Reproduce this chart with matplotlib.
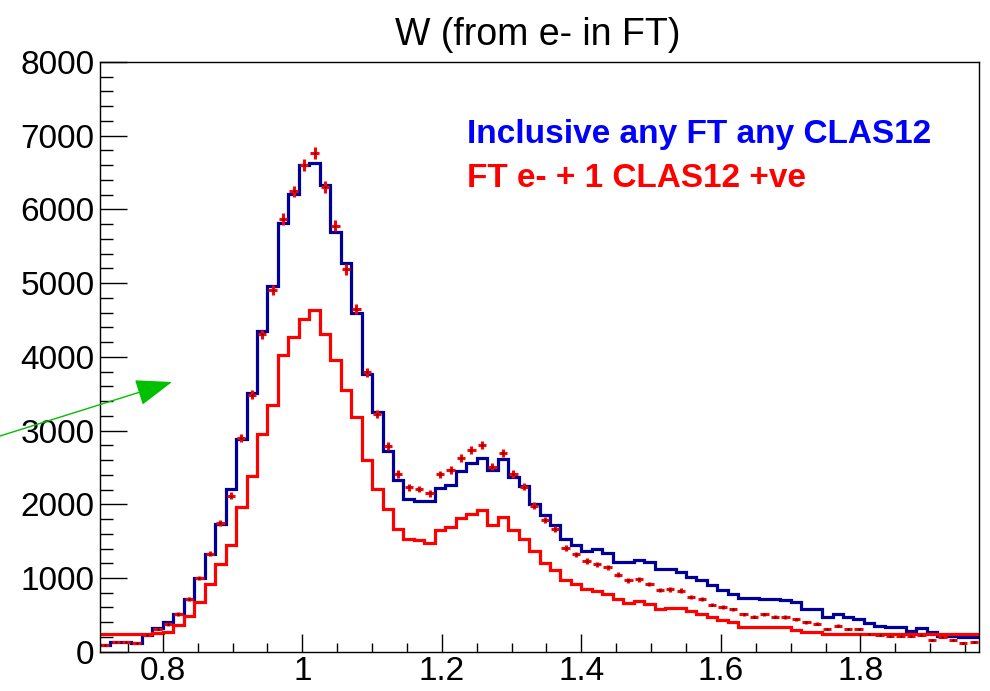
import numpy as np
import matplotlib
matplotlib.use('Agg')
import matplotlib.pyplot as plt

plt.rcParams['font.family'] = ['Liberation Sans', 'DejaVu Sans']

# binning: 84 bins of 0.015 from 0.71 to 1.97
w_lo = 0.71
w_hi = 1.97
n_bins = 84

# inclusive (blue line)
incl = [91, 132, 132, 113, 232, 323, 400, 513, 718, 1004,
        1331, 1730, 2203, 2884, 3511, 4351, 4964, 5813, 6203, 6608,
        6635, 6326, 5699, 5275, 4600, 3769, 3247, 2725, 2330, 2067,
        2048, 2048, 2225, 2262, 2457, 2566, 2625, 2466, 2612, 2366,
        2248, 1999, 1853, 1717, 1535, 1444, 1367, 1390, 1340, 1217,
        1217, 1240, 1217, 1127, 1127, 1080, 1020, 975, 910, 842,
        780, 735, 735, 713, 713, 700, 670, 582, 582, 477,
        513, 477, 445, 386, 354, 331, 331, 286, 318, 263,
        218, 218, 204, 204]

# red points with errors
pts = [91, 132, 132, 116, 222, 309, 373, 513, 709, 1000,
       1331, 1745, 2116, 2898, 3488, 4305, 4905, 5872, 6244, 6608,
       6771, 6304, 5781, 5186, 4646, 3792, 3224, 2793, 2411, 2230,
       2207, 2148, 2407, 2466, 2625, 2738, 2800, 2511, 2693, 2411,
       2239, 1980, 1785, 1671, 1408, 1322, 1231, 1185, 1149, 1045,
       967, 981, 915, 840, 845, 830, 745, 710, 640, 604,
       575, 505, 477, 505, 477, 470, 438, 400, 377, 309,
       354, 309, 309, 241, 232, 218, 218, 218, 232, 159,
       195, 159, 113, 136]

# FT e- + 1 CLAS12 +ve (red line)
pos = [241, 241, 241, 241, 241, 250, 263, 368, 490, 672,
       922, 1195, 1444, 1960, 2384, 2952, 3351, 4019, 4274, 4510,
       4636, 4314, 3958, 3544, 3179, 2602, 2203, 1930, 1658, 1535,
       1512, 1476, 1649, 1694, 1808, 1862, 1921, 1717, 1830, 1649,
       1535, 1367, 1203, 1113, 977, 913, 854, 822, 777, 718,
       658, 685, 649, 582, 590, 590, 549, 513, 467, 432,
       400, 331, 331, 331, 331, 331, 300, 263, 263, 241,
       241, 241, 241, 241, 241, 241, 241, 241, 241, 241,
       241, 241, 241, 241]

edges = np.linspace(w_lo, w_hi, n_bins + 1)
centers = 0.5 * (edges[1:] + edges[:-1])
bw = edges[1] - edges[0]

fig = plt.figure(figsize=(9.9, 6.91), dpi=100)
ax = fig.add_axes([100/990, 1 - 651.7/691, 879/990, 589.7/691])

ax.stairs(incl, edges, baseline=None, color='#000099', lw=2.3)
ax.stairs(pos, edges, baseline=None, color='#ff0000', lw=2.3)
ax.errorbar(centers, pts, xerr=0.4*bw, yerr=np.sqrt(pts), fmt='none',
            ecolor='#ff0000', elinewidth=2.2, capsize=0)
ax.plot(centers, pts, 'k.', ms=1)

ax.set_xlim(w_lo, w_hi)
ax.set_ylim(0, 8000)
ax.set_xticks(np.arange(0.8, 1.81, 0.2))
ax.set_xticklabels(['0.8', '1', '1.2', '1.4', '1.6', '1.8'])
ax.set_xticks(np.arange(0.75, 1.97, 0.05), minor=True)
ax.set_yticks(np.arange(0, 8001, 1000))
ax.set_yticks(np.arange(0, 8001, 200), minor=True)
ax.tick_params(axis='both', which='both', direction='in', labelsize=24, width=1)
ax.tick_params(axis='x', which='major', length=13, pad=3)
ax.tick_params(axis='x', which='minor', length=6.5)
ax.tick_params(axis='y', which='major', length=19.5, pad=4)
ax.tick_params(axis='y', which='minor', length=9.5)
for s in ax.spines.values():
    s.set_linewidth(1)

fig.text(538/990, 1 - 45/691, 'W (from e- in FT)', ha='center', va='baseline', fontsize=27)
fig.text(467/990, 1 - 143/691, 'Inclusive any FT any CLAS12', color='#0000ff',
         fontsize=24, fontweight='bold', va='baseline')
fig.text(467/990, 1 - 187/691, 'FT e- + 1 CLAS12 +ve', color='#ff0000',
         fontsize=24, fontweight='bold', va='baseline')

# green arrow
ax.annotate('', xy=(172, 691 - 382), xytext=(0, 691 - 436), xycoords='figure pixels',
            textcoords='figure pixels',
            arrowprops=dict(arrowstyle='-|>,head_length=23,head_width=8.4', mutation_scale=1,
                            color='#00c000', lw=1, shrinkA=0, shrinkB=0),
            annotation_clip=False)

fig.savefig('out.png', dpi=100)
